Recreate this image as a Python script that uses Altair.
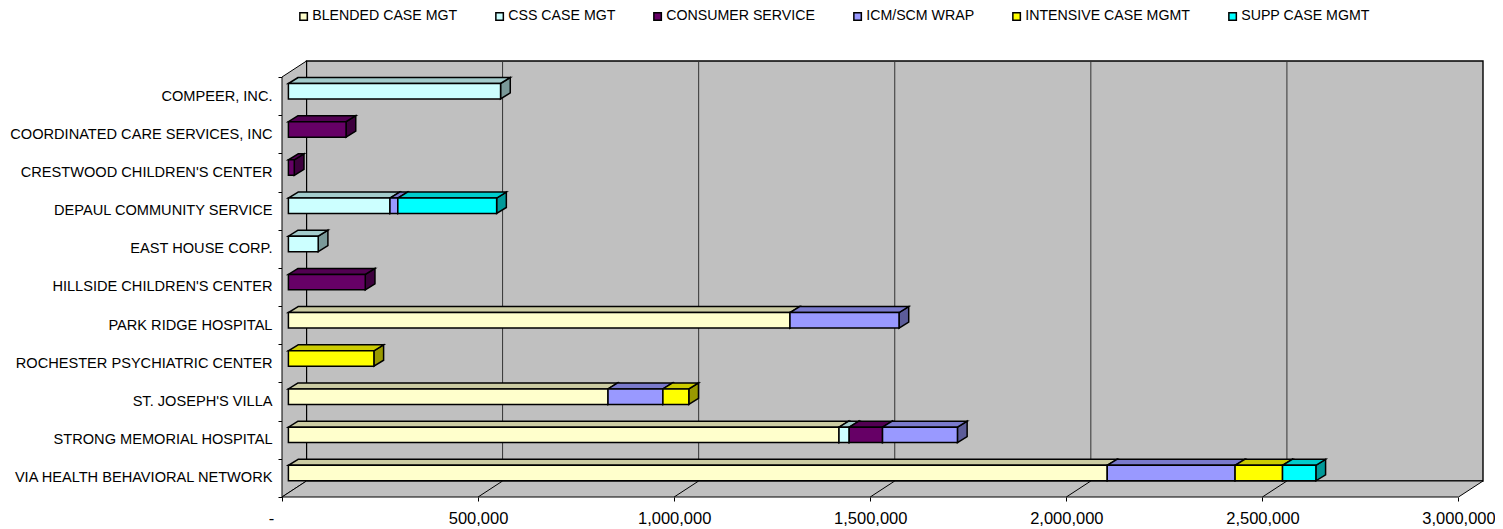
import altair as alt
import pandas as pd

agencies = ["COMPEER, INC.", "COORDINATED CARE SERVICES, INC", "CRESTWOOD CHILDREN'S CENTER",
            "DEPAUL COMMUNITY SERVICE", "EAST HOUSE CORP.", "HILLSIDE CHILDREN'S CENTER",
            "PARK RIDGE HOSPITAL", "ROCHESTER PSYCHIATRIC CENTER", "ST. JOSEPH'S VILLA",
            "STRONG MEMORIAL HOSPITAL", "VIA HEALTH BEHAVIORAL NETWORK"]
series = ["BLENDED CASE MGT", "CSS CASE MGT", "CONSUMER SERVICE", "ICM/SCM WRAP",
          "INTENSIVE CASE MGMT", "SUPP CASE MGMT"]
blended =   [0, 0, 0, 0, 0, 0, 1279000, 0, 815000, 1404000, 2088000]
css =       [541000, 0, 0, 259000, 76000, 0, 0, 0, 0, 26000, 0]
consumer =  [0, 147000, 15000, 0, 0, 196000, 0, 0, 0, 85000, 0]
icm =       [0, 0, 0, 20000, 0, 0, 278000, 0, 140000, 191000, 326000]
intensive = [0, 0, 0, 0, 0, 0, 0, 218000, 66000, 0, 121000]
supp =      [0, 0, 0, 252000, 0, 0, 0, 0, 0, 0, 85000]
columns = [blended, css, consumer, icm, intensive, supp]

front_colors = ["#FFFFCC", "#CCFFFF", "#660066", "#9999FF", "#FFFF00", "#00FFFF"]
top_colors = ["#CCCCA3", "#A3CCCC", "#520052", "#7A7ACC", "#CCCC00", "#00CCCC"]
side_colors = ["#99997A", "#7A9999", "#3D003D", "#5C5C99", "#999900", "#009999"]
grid_values = [500000, 1000000, 1500000, 2000000, 2500000, 3000000]
tick_values = [0] + grid_values

# geometry of the pseudo-3D box, in axis units
PX_X = 500000 / 196.05          # value units per pixel
PX_Y = 1 / 38.17                # category units per pixel
WALL_DX = 24.5 * PX_X
WALL_DY = 16 * PX_Y
BAR_DX = 9.7 * PX_X
BAR_DY = 6 * PX_Y
BAR_X0 = 6.4 * PX_X
BAR_TOP = 0.17
BAR_BOTTOM = 0.575
XMAX = 3000000 + WALL_DX
YTOP = -WALL_DY
YBOT = len(agencies)

fronts, tops, sides = [], [], []
for i, name in enumerate(agencies):
    start = BAR_X0
    for j, col in enumerate(columns):
        v = col[i]
        if v <= 0:
            continue
        end = start + v
        seg = f"{i}-{j}"
        t, b = i + BAR_TOP, i + BAR_BOTTOM
        fronts.append(dict(series=series[j], x=start, x2=end, y=t, y2=b))
        tops.append(dict(seg=seg, c=top_colors[j], x=start, x2=end, y=t))
        tops.append(dict(seg=seg, c=top_colors[j], x=start + BAR_DX, x2=end + BAR_DX, y=t - BAR_DY))
        sides.append(dict(seg=seg, c=side_colors[j], x=end, y=t, y2=b))
        sides.append(dict(seg=seg, c=side_colors[j], x=end + BAR_DX, y=t - BAR_DY, y2=b - BAR_DY))
        start = end

label_arr = "[" + ",".join('"' + a + '"' for a in agencies) + ',""]'
x_axis = alt.Axis(values=tick_values, title=None, grid=False, domain=False, tickSize=4, tickColor="black",
                  labelFont="Liberation Sans", labelFontSize=16.5, labelColor="black", labelPadding=9,
                  labelOverlap=False, labelBound=False, labelFlush=False,
                  labelOffset={"condition": {"test": "datum.value === 0", "value": -11}, "value": 0},
                  labelExpr="datum.value === 0 ? '-' : format(datum.value, ',')")
y_axis = alt.Axis(values=list(range(len(agencies) + 1)), title=None, grid=False, domain=False, tickSize=4,
                  tickColor="black", labelFont="Liberation Sans", labelFontSize=14.6, labelColor="black",
                  labelPadding=6, labelOverlap=False, labelBound=False, labelFlush=False, labelOffset=19,
                  labelLimit=400, labelExpr=label_arr + "[datum.value]")
x_scale = alt.Scale(domain=[0, XMAX], nice=False, zero=False)
y_scale = alt.Scale(domain=[YBOT, YTOP], nice=False, zero=False)
X = lambda f="x": alt.X(f"{f}:Q", scale=x_scale, axis=x_axis)
Y = lambda f="y": alt.Y(f"{f}:Q", scale=y_scale, axis=y_axis)
X2 = alt.X2("x2:Q")
Y2 = alt.Y2("y2:Q")

WALL = "#C0C0C0"
back = alt.Chart(pd.DataFrame([dict(x=WALL_DX, x2=XMAX, y=YTOP, y2=YBOT - WALL_DY)])).mark_rect(
    fill=WALL, stroke="black", strokeWidth=1.4).encode(x=X(), x2=X2, y=Y(), y2=Y2)
left = alt.Chart(pd.DataFrame([dict(seg="l", x=0, y=0, y2=YBOT),
                               dict(seg="l", x=WALL_DX, y=YTOP, y2=YBOT - WALL_DY)])).mark_area(
    orient="vertical", fill=WALL, stroke="black", strokeWidth=1, opacity=1).encode(
    x=X(), y=Y(), y2=Y2, detail="seg:N")
floor = alt.Chart(pd.DataFrame([dict(seg="f", x=0, x2=3000000, y=YBOT),
                                dict(seg="f", x=WALL_DX, x2=XMAX, y=YBOT - WALL_DY)])).mark_area(
    orient="horizontal", fill=WALL, stroke="black", strokeWidth=1, opacity=1).encode(
    x=X(), x2=X2, y=Y(), detail="seg:N")
gv = grid_values[:-1]
grid = alt.Chart(pd.DataFrame(dict(x=[v + WALL_DX for v in gv], y=[YTOP] * len(gv),
                                   y2=[YBOT - WALL_DY] * len(gv)))).mark_rule(
    color="#333333", strokeWidth=1).encode(x=X(), y=Y(), y2=Y2)
diag = alt.Chart(pd.DataFrame(dict(x=gv, x2=[v + WALL_DX for v in gv], y=[YBOT] * len(gv),
                                   y2=[YBOT - WALL_DY] * len(gv)))).mark_rule(
    color="black", strokeWidth=1).encode(x=X(), x2=X2, y=Y(), y2=Y2)

side_layer = alt.Chart(pd.DataFrame(sides)).mark_area(
    orient="vertical", stroke="black", strokeWidth=1.5, opacity=1).encode(
    x=X(), y=Y(), y2=Y2, detail="seg:N", fill=alt.Fill("c:N", scale=None))
top_layer = alt.Chart(pd.DataFrame(tops)).mark_area(
    orient="horizontal", stroke="black", strokeWidth=1.5, opacity=1).encode(
    x=X(), x2=X2, y=Y(), detail="seg:N", fill=alt.Fill("c:N", scale=None))
front_layer = alt.Chart(pd.DataFrame(fronts)).mark_rect(stroke="black", strokeWidth=1.5).encode(
    x=X(), x2=X2, y=Y(), y2=Y2,
    fill=alt.Fill("series:N", scale=alt.Scale(domain=series, range=front_colors),
                  legend=alt.Legend(orient="none", legendX=14.5, legendY=-52, direction="horizontal",
                                    columns=6, title=None, symbolType="square", symbolSize=56,
                                    symbolStrokeColor="black", symbolStrokeWidth=1.5,
                                    labelFont="Liberation Sans", labelFontSize=14.2, labelColor="black",
                                    labelOffset=1.5, columnPadding=35, labelLimit=300, padding=0)))

chart = alt.layer(back, left, floor, grid, diag, side_layer, top_layer, front_layer).properties(
    width=1201, height=436,
    autosize=alt.AutoSizeParams(type="none"),
    padding={"left": 274, "top": 53, "right": 12, "bottom": 30},
    background="white",
).configure_view(stroke=None)

chart.save("out.html", embed_options={"renderer": "svg", "actions": False})
